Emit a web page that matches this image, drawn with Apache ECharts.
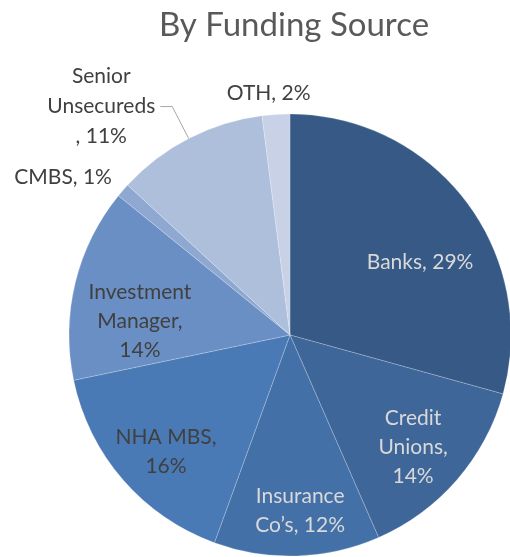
<!DOCTYPE html>
<html>
<head>
<meta charset="utf-8">
<script src="https://cdn.jsdelivr.net/npm/echarts@6/dist/echarts.min.js"></script>
<style>
  html, body { margin: 0; padding: 0; background: #fff; }
  #main { width: 510px; height: 557px; }
</style>
</head>
<body>
<div id="main"></div>
<script>
// funding sources, clockwise from 12 o'clock
const categories = ['Banks', 'Credit Unions', 'Insurance Co’s', 'NHA MBS', 'Investment Manager', 'CMBS', 'Senior Unsecureds', 'OTH'];
const shares = [29, 14, 12, 16, 14, 1, 11, 2];
// how the labels wrap in the original
const labelTexts = ['Banks, 29%', 'Credit\nUnions,\n14%', 'Insurance\nCo’s, 12%', 'NHA MBS,\n16%', 'Investment\nManager,\n14%', 'CMBS, 1%', 'Senior\nUnsecureds\n, 11%', 'OTH, 2%'];

const colors = ['#365986', '#3e6699', '#4470a8', '#4a7ab5', '#6a8fc4', '#8fa8d2', '#aebfdc', '#c9d1e6'];
const textColors = ['#d9d9d9', '#d9d9d9', '#d9d9d9', '#404040', '#404040', '#404040', '#404040', '#404040'];
// inside label spot: [fraction of R, degrees clockwise from 12 o'clock]
const insideSpot = [[0.675, 60.7], [0.753, 132.3], [0.798, 176.7], [0.771, 226.7], [0.682, 275.3]];
const outsideShift = { 5: [0, -8], 7: [40, -13] };

const CX = 290, CY = 335, R = 221;
const FONT = 'Lato';

const chart = echarts.init(document.getElementById('main'));

const data = categories.map((name, i) => {
    const inside = insideSpot[i] != null;
    const item = {
        name: name,
        value: shares[i],
        itemStyle: { color: colors[i] },
        label: {
            position: inside ? 'inside' : 'outside',
            color: textColors[i]
        },
        labelLine: { show: i === 6, length: 36, length2: 12 }
    };
    if (i === 6) {
        item.label.formatter = labelTexts[i].split('\n').map(t => '{t|' + t + '}').join('\n');
        item.label.rich = { t: { align: 'center', color: textColors[i], fontSize: 21, fontFamily: FONT, lineHeight: 30 } };
    } else if (!inside) {
        item.labelLine.length = 8;
        item.labelLine.length2 = 0;
    }
    return item;
});

const option = {
    animation: false,
    title: {
        text: 'By Funding Source',
        left: 289,
        top: 4,
        textAlign: 'center',
        textStyle: { fontFamily: FONT, fontSize: 33, fontWeight: 'normal', color: '#595959' }
    },
    series: [{
        type: 'pie',
        center: [CX, CY],
        radius: [0, R],
        startAngle: 90,
        clockwise: true,
        avoidLabelOverlap: false,
        itemStyle: { borderColor: 'rgba(255,255,255,0.35)', borderWidth: 0.6 },
        label: {
            fontFamily: FONT,
            fontSize: 21,
            lineHeight: 29,
            rotate: 0,
            formatter: p => labelTexts[p.dataIndex]
        },
        labelLine: {
            lineStyle: { color: '#a6a6a6', width: 1 },
            smooth: false
        },
        labelLayout: function (p) {
            const i = p.dataIndex;
            const spot = insideSpot[i];
            if (spot) {
                const a = spot[1] * Math.PI / 180;
                return { x: CX + Math.sin(a) * spot[0] * R, y: CY - Math.cos(a) * spot[0] * R };
            }
            if (outsideShift[i]) {
                return { dx: outsideShift[i][0], dy: outsideShift[i][1] };
            }
            return {};
        },
        data: data
    }]
};

chart.setOption(option);
</script>
</body>
</html>
